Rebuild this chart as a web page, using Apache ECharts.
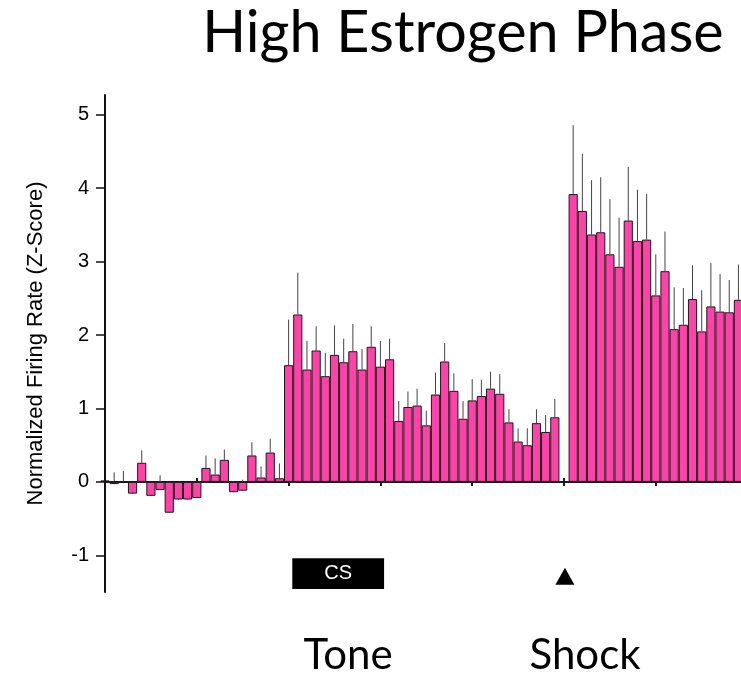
<!DOCTYPE html>
<html>
<head>
<meta charset="utf-8">
<title>High Estrogen Phase</title>
<script src="https://cdn.jsdelivr.net/npm/echarts@6/dist/echarts.min.js"></script>
<style>
  html, body { margin: 0; padding: 0; background: #fff; }
  #chart { width: 741px; height: 677px; }
</style>
</head>
<body>
<div id="chart"></div>
<script>
// Time bins (bin index along the trial)
const bins = [
  0, 1, 2, 3, 4, 5, 6, 7, 8, 9,
  10, 11, 12, 13, 14, 15, 16, 17, 18, 19,
  20, 21, 22, 23, 24, 25, 26, 27, 28, 29,
  30, 31, 32, 33, 34, 35, 36, 37, 38, 39,
  40, 41, 42, 43, 44, 45, 46, 47, 48, 49,
  50, 51, 52, 53, 54, 55, 56, 57, 58, 59,
  60, 61, 62, 63, 64, 65, 66, 67, 68, 69
];

// Mean normalized firing rate (Z-score) per bin; the shock bin is excluded
const meanZ = [
  0.02, -0.03, 0.00, -0.16, 0.26, -0.19, -0.11, -0.42, -0.24, -0.24,
  -0.22, 0.19, 0.10, 0.30, -0.14, -0.12, 0.36, 0.06, 0.40, 0.05,
  1.59, 2.28, 1.53, 1.79, 1.44, 1.73, 1.63, 1.78, 1.53, 1.84,
  1.57, 1.67, 0.83, 1.02, 1.04, 0.77, 1.19, 1.64, 1.24, 0.86,
  1.11, 1.17, 1.27, 1.20, 0.81, 0.55, 0.50, 0.80, 0.68, 0.88,
  null, 3.92, 3.69, 3.37, 3.40, 3.10, 2.93, 3.56, 3.28, 3.30,
  2.54, 2.87, 2.08, 2.14, 2.49, 2.05, 2.39, 2.32, 2.31, 2.48
];

// Standard error of the mean per bin
const semZ = [
  0.00, 0.16, 0.15, 0.14, 0.17, 0.10, 0.20, 0.31, 0.17, 0.17,
  0.10, 0.17, 0.22, 0.14, 0.15, 0.15, 0.18, 0.15, 0.19, 0.20,
  0.62, 0.57, 0.39, 0.33, 0.32, 0.40, 0.32, 0.37, 0.28, 0.28,
  0.35, 0.28, 0.27, 0.21, 0.23, 0.20, 0.30, 0.25, 0.24, 0.24,
  0.29, 0.22, 0.23, 0.27, 0.18, 0.18, 0.23, 0.19, 0.23, 0.25,
  null, 0.94, 0.78, 0.74, 0.75, 0.75, 0.67, 0.73, 0.70, 0.62,
  0.56, 0.54, 0.57, 0.50, 0.46, 0.56, 0.59, 0.51, 0.44, 0.48
];

// Axis ticks
const yTicks = [-1, 0, 1, 2, 3, 4, 5];
const xTicks = [10, 20, 30, 40, 50, 60];

// Stimulus annotations (in bin / Z-score units)
const csWindow = [20.4, 30.4];
const csRow = [-1.04, -1.46];
const shockBin = 50.1;
const shockRow = -1.285;

const axisFont = 'Liberation Sans, Arial, sans-serif';
const slideFont = 'Lato, "Open Sans", sans-serif';

const barData = bins.map((b, i) => [b, meanZ[i]]);
const errData = bins
  .map((b, i) => [b, meanZ[i], semZ[i]])
  .filter(d => d[1] !== null && d[2] > 0);

const chart = echarts.init(document.getElementById('chart'), null, { renderer: 'canvas' });

const xBase = {
  type: 'value',
  min: 0,
  max: 69.28,
  axisLabel: { show: false },
  splitLine: { show: false },
  axisLine: { show: true, onZero: true, onZeroAxisIndex: 0, lineStyle: { color: '#1a1a1a', width: 2 } },
  axisTick: { show: true, length: 4, customValues: xTicks, lineStyle: { color: '#1a1a1a', width: 2 } }
};

chart.setOption({
  animation: false,
  backgroundColor: '#fff',
  grid: { left: 105, right: 0, top: 95, bottom: 85, containLabel: false, outerBoundsMode: 'none' },
  xAxis: [
    Object.assign({}, xBase, { position: 'bottom' }),
    Object.assign({}, xBase, { position: 'top' })
  ],
  yAxis: {
    type: 'value',
    min: -1.5,
    max: 5.27,
    splitLine: { show: false },
    axisLine: { show: true, onZero: false, lineStyle: { color: '#111', width: 2 } },
    axisTick: { show: true, length: 9, customValues: yTicks, lineStyle: { color: '#111', width: 1.5 } },
    axisLabel: {
      customValues: yTicks,
      margin: 16,
      color: '#000',
      fontSize: 20,
      fontFamily: axisFont
    },
    name: 'Normalized Firing Rate (Z-Score)',
    nameLocation: 'middle',
    nameGap: 58,
    nameTextStyle: { color: '#000', fontSize: 22, fontFamily: axisFont }
  },
  series: [
    {
      type: 'bar',
      xAxisIndex: 0,
      yAxisIndex: 0,
      data: barData,
      barWidth: '100%',
      itemStyle: { color: '#ff42a8', borderColor: '#1a1a1a', borderWidth: 1 },
      emphasis: { disabled: true },
      markArea: {
        silent: true,
        itemStyle: { color: '#000', opacity: 1 },
        label: { show: true, position: 'inside', color: '#fff', fontSize: 20, fontFamily: axisFont },
        data: [[
          { name: 'CS', xAxis: csWindow[0], yAxis: csRow[0] },
          { xAxis: csWindow[1], yAxis: csRow[1] }
        ]]
      },
      markPoint: {
        silent: true,
        symbol: 'triangle',
        symbolSize: [19, 17],
        itemStyle: { color: '#000' },
        label: { show: false },
        data: [{ coord: [shockBin, shockRow] }]
      }
    },
    {
      type: 'custom',
      xAxisIndex: 0,
      yAxisIndex: 0,
      data: errData,
      silent: true,
      renderItem: function (params, api) {
        const x = api.value(0);
        const m = api.value(1);
        const e = api.value(2);
        const p0 = api.coord([x, m]);
        const p1 = api.coord([x, m + e]);
        return {
          type: 'line',
          shape: { x1: p0[0], y1: p0[1], x2: p1[0], y2: p1[1] },
          style: { stroke: '#444', lineWidth: 1 }
        };
      }
    }
  ],
  graphic: [
    {
      type: 'text',
      x: 463, y: 33,
      style: { text: 'High Estrogen Phase', fill: '#000', fontSize: 57.5, fontFamily: slideFont, align: 'center', verticalAlign: 'middle' }
    },
    {
      type: 'text',
      x: 348, y: 655,
      style: { text: 'Tone', fill: '#000', fontSize: 42, fontFamily: slideFont, align: 'center', verticalAlign: 'middle' }
    },
    {
      type: 'text',
      x: 585, y: 655,
      style: { text: 'Shock', fill: '#000', fontSize: 42, fontFamily: slideFont, align: 'center', verticalAlign: 'middle' }
    }
  ]
});
</script>
</body>
</html>
